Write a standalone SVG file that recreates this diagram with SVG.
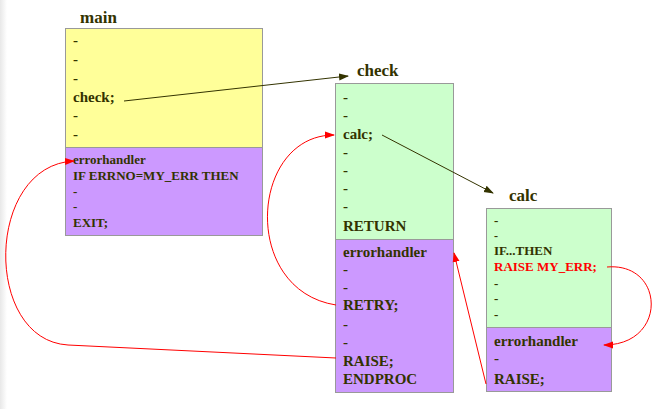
<svg xmlns="http://www.w3.org/2000/svg" width="659" height="409" viewBox="0 0 659 409">
<defs>
<linearGradient id="edge" x1="0" y1="0" x2="1" y2="0">
<stop offset="0" stop-color="#e8e8e8"/>
<stop offset="1" stop-color="#ffffff"/>
</linearGradient>
<marker id="ad" markerWidth="10" markerHeight="8" refX="9" refY="4" orient="auto" markerUnits="userSpaceOnUse">
<path d="M0,0.5 L10,4 L0,7.5 Z" fill="#333300"/>
</marker>
<marker id="ar" markerWidth="10" markerHeight="8" refX="9" refY="4" orient="auto" markerUnits="userSpaceOnUse">
<path d="M0,0.5 L10,4 L0,7.5 Z" fill="#ff0000"/>
</marker>
</defs>
<style>
text{font-family:"Liberation Serif","Times New Roman",serif;font-weight:bold;fill:#333300}
.t{font-size:17px}
.l{font-size:15px}
.s{font-size:13px}
.d{font-size:12px}
.red{fill:#ff0000}
.box{stroke:#999999;stroke-width:1}
.y{fill:#ffff99}
.g{fill:#ccffcc}
.p{fill:#cc99ff}
.cd{fill:none;stroke:#333300;stroke-width:1}
.cr{fill:none;stroke:#ff0000;stroke-width:1}
</style>
<rect x="0" y="0" width="659" height="409" fill="#ffffff"/>
<rect x="0" y="0" width="7" height="409" fill="url(#edge)"/>

<g id="main">
<text class="t" x="80" y="23">main</text>
<rect class="box y" x="65.5" y="28.5" width="197" height="119"/>
<rect class="box p" x="65.5" y="147.5" width="197" height="88"/>
<text class="l" x="73" y="45">-</text>
<text class="l" x="73" y="64">-</text>
<text class="l" x="73" y="83">-</text>
<text class="l" x="73" y="102">check;</text>
<text class="l" x="73" y="120">-</text>
<text class="l" x="73" y="139">-</text>
<text class="s" x="73" y="164">errorhandler</text>
<text class="s" x="73" y="180">IF ERRNO=MY_ERR THEN</text>
<text class="s" x="73" y="196">-</text>
<text class="s" x="73" y="211">-</text>
<text class="s" x="73" y="227">EXIT;</text>
</g>

<g id="check">
<text class="t" x="357" y="76">check</text>
<rect class="box g" x="335.5" y="83.5" width="118" height="156"/>
<rect class="box p" x="335.5" y="239.5" width="118" height="153"/>
<text class="l" x="343" y="102">-</text>
<text class="l" x="343" y="120">-</text>
<text class="l" x="343" y="139">calc;</text>
<text class="l" x="343" y="157">-</text>
<text class="l" x="343" y="175">-</text>
<text class="l" x="343" y="193">-</text>
<text class="l" x="343" y="211">-</text>
<text class="l" x="343" y="231">RETURN</text>
<text class="l" x="343" y="257">errorhandler</text>
<text class="l" x="343" y="274">-</text>
<text class="l" x="343" y="292">-</text>
<text class="l" x="343" y="310">RETRY;</text>
<text class="l" x="343" y="329">-</text>
<text class="l" x="343" y="347">-</text>
<text class="l" x="343" y="366">RAISE;</text>
<text class="l" x="343" y="384">ENDPROC</text>
</g>

<g id="calc">
<text class="t" x="509" y="201">calc</text>
<rect class="box g" x="486.5" y="208.5" width="125" height="119"/>
<rect class="box p" x="486.5" y="327.5" width="125" height="64"/>
<text class="s" x="494" y="225">-</text>
<text class="d" x="494" y="240">-</text>
<text class="s" x="494" y="255">IF...THEN</text>
<text class="s red" x="494" y="271">RAISE MY_ERR;</text>
<text class="s" x="494" y="288">-</text>
<text class="s" x="494" y="303">-</text>
<text class="s" x="494" y="319">-</text>
<text class="l" x="494" y="346">errorhandler</text>
<text class="l" x="494" y="363">-</text>
<text class="l" x="494" y="384">RAISE;</text>
</g>

<g id="connectors">
<path class="cd" d="M124,101 L348,76" marker-end="url(#ad)"/>
<path class="cd" d="M382,135 L493,193" marker-end="url(#ad)"/>
<path class="cr" d="M607,267 C665,262 668,345 604,345" marker-end="url(#ar)"/>
<path class="cr" d="M486,384 L454,253" marker-end="url(#ar)"/>
<path class="cr" d="M336,305 C240,290 250,135 334,135" marker-end="url(#ar)"/>
<path class="cr" d="M336,358 L68,345 C-17,340 -15,165 74,161" marker-end="url(#ar)"/>
</g>
</svg>
